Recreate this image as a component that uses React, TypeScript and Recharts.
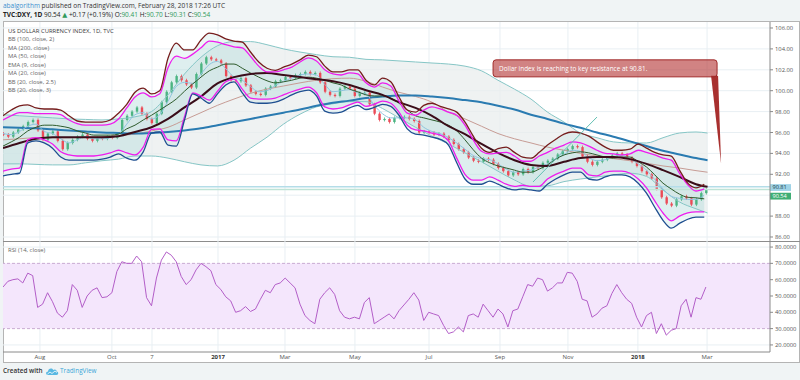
import React from "react";
import {
  ComposedChart,
  Line,
  Area,
  Bar,
  XAxis,
  YAxis,
  CartesianGrid,
  ReferenceLine,
  ReferenceArea,
  ReferenceDot,
} from "recharts";

const FONT = "'Open Sans', 'Noto Sans', 'DejaVu Sans', sans-serif";

// ---------- axes ----------
// x = trading-day index counted from 1 Jul 2016
const X_DOMAIN = [0, 464.85];
const X_TICK_DAYS = [22.4, 66, 90.3, 130.3, 170.9, 213.3, 258.2, 301.2, 342.4, 384.8, 426.7];
const X_TICK_LABELS = ["Aug", "Oct", "7", "2017", "Mar", "May", "Jul", "Sep", "Nov", "2018", "Mar"];
const PRICE_DOMAIN = [85.617, 106.574];
const PRICE_GRID = [86, 88, 90, 92, 94, 96, 98, 100, 102, 104, 106];
// 90.00 is hidden behind the price tags in the reference
const PRICE_TICKS = [86, 88, 92, 94, 96, 98, 100, 102, 104, 106];
const RSI_DOMAIN = [15.67, 83.71];
const RSI_TICKS = [20, 30, 40, 50, 60, 70, 80];
const RSI_GRID = [20, 40, 50, 60, 80];

// ---------- fast indicators, one value every 5 trading days (day 0..425) ----------
const FAST_STEP = 5;
const BB3_UPPER = [
  97.6, 98.15, 98.55, 98.65, 98.35, 98.25, 98.25, 98.15, 97.6, 97.1,
  97.0, 97.0, 97.0, 97.2, 97.85, 98.7, 99.85, 100.25, 99.7, 100.0,
  103.1, 104.55, 103.9, 103.9, 104.85, 105.5, 105.35, 104.95, 104.75, 104.65,
  103.7, 102.75, 102.15, 101.95, 102.25, 102.55, 102.95, 103.4, 103.25, 102.35,
  101.8, 101.8, 102.0, 102.0, 101.0, 100.55, 101.2, 100.85, 99.4, 98.15,
  97.95, 98.6, 98.8, 98.5, 98.25, 97.95, 97.0, 95.65, 94.5, 94.1,
  94.45, 94.6, 94.1, 93.65, 93.55, 94.1, 94.8, 95.35, 95.85, 96.05,
  95.95, 95.65, 95.1, 94.6, 94.3, 94.3, 94.4, 94.9, 94.5, 94.1,
  93.85, 93.75, 92.4, 91.15, 90.7, 91.05,
];
const BB25_UPPER = [
  97.2, 97.6, 97.9, 97.9, 97.8, 97.8, 97.8, 97.7, 97.2, 96.85,
  96.7, 96.7, 96.7, 96.8, 97.3, 98.35, 99.4, 99.8, 99.4, 99.7,
  102.2, 103.3, 103.1, 103.5, 104.1, 104.75, 104.65, 104.4, 104.2, 104.1,
  103.3, 102.35, 101.8, 101.8, 102.0, 102.25, 102.75, 103.15, 102.85, 102.0,
  101.6, 101.5, 101.7, 101.6, 100.75, 100.35, 100.75, 100.45, 99.0, 97.85,
  97.65, 98.15, 98.45, 98.25, 97.95, 97.65, 96.7, 95.3, 94.2, 93.95,
  94.05, 94.1, 93.75, 93.25, 93.25, 93.75, 94.1, 94.5, 94.8, 95.1,
  95.0, 94.7, 94.3, 94.0, 93.95, 93.85, 93.95, 94.3, 94.1, 93.85,
  93.55, 93.35, 92.1, 91.0, 90.4, 90.6,
];
const BB25_LOWER = [
  92.3, 92.5, 92.6, 95.3, 95.5, 95.3, 94.9, 94.15, 93.85, 93.75,
  93.75, 93.75, 93.85, 94.05, 94.3, 94.05, 93.85, 94.6, 96.3, 96.35,
  95.3, 95.2, 97.5, 99.8, 99.5, 99.1, 99.95, 100.85, 101.1, 100.15,
  99.3, 99.2, 99.2, 99.3, 99.6, 99.9, 100.15, 100.35, 99.8, 98.45,
  98.25, 98.35, 98.65, 98.9, 98.5, 98.7, 99.0, 98.8, 97.95, 96.7,
  96.25, 96.15, 95.95, 95.75, 95.2, 93.55, 92.0, 91.45, 91.45, 91.75,
  91.45, 91.05, 90.85, 90.95, 90.85, 90.85, 91.55, 92.0, 92.3, 92.6,
  92.6, 91.95, 91.85, 92.2, 92.3, 92.3, 92.1, 91.55, 90.7, 89.45,
  88.3, 87.55, 88.0, 88.3, 88.4, 88.4,
];
const BB3_LOWER = [
  91.85, 92.0, 92.1, 95.0, 95.2, 95.0, 94.5, 93.65, 93.35, 93.35,
  93.35, 93.35, 93.45, 93.65, 93.95, 93.55, 93.35, 94.15, 95.95, 96.05,
  94.8, 94.7, 97.2, 99.7, 99.3, 98.8, 99.7, 100.55, 100.85, 99.8,
  98.9, 98.8, 98.8, 98.9, 99.2, 99.6, 99.9, 100.05, 99.5, 98.05,
  97.85, 97.95, 98.35, 98.6, 98.2, 98.4, 98.7, 98.5, 97.65, 96.35,
  95.85, 95.75, 95.55, 95.35, 94.8, 93.1, 91.55, 91.05, 91.05, 91.35,
  91.05, 90.7, 90.5, 90.6, 90.5, 90.4, 91.05, 91.55, 91.95, 92.2,
  92.2, 91.55, 91.45, 91.75, 91.95, 91.95, 91.75, 91.15, 90.2, 88.85,
  87.6, 86.85, 87.3, 87.7, 87.9, 87.9,
];
const MA20 = [
  94.7, 95.1, 95.55, 96.15, 96.5, 96.7, 96.7, 96.6, 96.45, 96.15,
  95.95, 95.75, 95.75, 95.75, 95.85, 96.35, 96.7, 97.2, 97.65, 98.15,
  98.65, 99.2, 99.95, 100.65, 101.3, 101.9, 102.25, 102.55, 102.55, 102.15,
  101.7, 101.3, 100.95, 100.75, 100.85, 101.0, 101.2, 101.3, 101.2, 101.0,
  100.75, 100.55, 100.15, 99.9, 99.6, 99.5, 99.5, 99.3, 98.8, 98.15,
  97.6, 97.4, 97.2, 97.0, 96.7, 96.15, 95.3, 94.35, 93.55, 93.1,
  92.8, 92.6, 92.4, 92.2, 92.2, 92.5, 92.9, 93.45, 93.85, 94.05,
  94.15, 94.05, 93.85, 93.65, 93.55, 93.65, 93.65, 93.2, 92.7, 91.95,
  91.15, 90.6, 90.1, 89.8, 89.75, 89.65,
];
const EMA9 = [
  95.9, 95.8, 96.1, 96.6, 96.8, 96.1, 95.9, 95.4, 95.0, 95.3,
  95.6, 95.4, 95.4, 95.5, 95.8, 96.8, 97.7, 97.9, 97.3, 97.7,
  99.0, 100.4, 100.8, 100.7, 101.6, 102.5, 102.8, 102.1, 101.3, 101.0,
  100.4, 99.9, 100.0, 100.5, 100.9, 101.2, 101.5, 101.6, 101.5, 100.6,
  99.9, 100.0, 100.1, 99.8, 99.7, 98.6, 97.8, 97.4, 97.4, 97.4,
  97.2, 96.5, 96.1, 95.9, 95.5, 95.0, 94.4, 93.8, 93.5, 93.4,
  93.0, 92.5, 92.2, 92.3, 92.4, 92.7, 93.0, 93.5, 93.9, 94.3,
  94.2, 93.6, 93.3, 93.4, 93.7, 93.8, 93.5, 93.0, 92.4, 91.5,
  90.6, 89.9, 89.7, 89.6, 89.6, 90.0,
];

// ---------- slow indicators ----------
const SLOW_DAYS = [
  0, 10, 20, 30, 40, 50, 60, 70, 80, 90, 100, 110, 120, 130, 140, 150, 160, 170, 180, 190,
  200, 210, 220, 230, 240, 250, 260, 270, 280, 290, 300, 310, 320, 330, 340, 350, 360, 370,
  380, 390, 400, 410, 420, 427,
];
const MA200 = [
  96.5, 96.45, 96.4, 96.3, 96.2, 96.1, 96.0, 95.95, 95.9, 95.95,
  96.05, 96.2, 96.4, 96.7, 97.0, 97.3, 97.6, 97.9, 98.2, 98.55,
  98.85, 99.05, 99.3, 99.45, 99.55, 99.55, 99.45, 99.3, 99.1, 98.9,
  98.55, 98.2, 97.7, 97.3, 96.85, 96.45, 96.0, 95.6, 95.15, 94.7,
  94.25, 93.9, 93.55, 93.35,
];
const MA50 = [
  94.5, 95.0, 95.4, 95.55, 95.55, 95.55, 95.55, 95.65, 96.05, 96.5,
  97.3, 98.4, 99.45, 100.7, 101.3, 101.6, 101.7, 101.5, 101.3, 101.1,
  100.9, 100.55, 100.05, 99.6, 98.9, 98.35, 97.6, 96.6, 95.85, 94.9,
  94.05, 93.35, 92.9, 92.8, 93.2, 93.55, 93.65, 93.65, 93.45, 93.0,
  92.4, 91.75, 91.05, 90.8,
];
const BB100_UPPER = [
  97.7, 97.6, 97.5, 97.4, 97.3, 97.25, 97.2, 97.3, 97.5, 98.0,
  99.6, 101.6, 103.2, 104.3, 104.7, 104.7, 104.4, 104.0, 103.7, 103.45,
  103.25, 103.2, 103.0, 102.95, 102.85, 102.75, 102.65, 102.55, 102.35, 101.9,
  101.0, 100.15, 99.2, 97.95, 97.0, 95.95, 95.5, 95.1, 95.0, 95.0,
  95.5, 95.95, 96.05, 95.95,
];
const BB100_BASIS = [
  95.3, 95.4, 95.5, 95.5, 95.5, 95.55, 95.6, 95.7, 95.85, 96.15,
  96.5, 97.2, 97.9, 98.6, 99.2, 99.75, 100.15, 100.45, 100.75, 101.0,
  101.15, 101.2, 100.9, 100.35, 99.85, 99.45, 98.9, 97.95, 97.3, 96.6,
  95.9, 95.4, 95.0, 94.6, 94.3, 94.0, 93.75, 93.5, 93.3, 93.05,
  92.8, 92.6, 92.35, 92.2,
];
const BB100_LOWER = [
  93.0, 93.0, 92.95, 92.9, 92.9, 93.1, 93.3, 93.45, 93.75, 93.75,
  93.55, 93.2, 92.9, 92.8, 93.35, 94.5, 95.55, 96.8, 97.75, 98.45,
  98.75, 98.95, 98.95, 98.3, 97.4, 96.5, 95.65, 94.9, 94.05, 93.2,
  92.3, 91.45, 90.85, 90.9, 91.3, 91.55, 91.75, 91.95, 92.1, 91.8,
  90.5, 89.35, 88.7, 88.3,
];

// ---------- price (one candle every 3 trading days) & RSI ----------
const CANDLE_STEP = 3;
const FIRST_OPEN = 95.9;
const CLOSES = [
  95.8, 95.6, 96.0, 96.3, 96.6, 97.0, 97.2, 96.2, 95.3, 95.9,
  96.1, 95.2, 94.4, 95.0, 95.3, 95.6, 95.8, 95.4, 95.2, 95.5,
  95.4, 95.6, 95.5, 95.9, 97.2, 97.6, 98.0, 98.4, 97.8, 97.3,
  96.9, 97.8, 98.9, 99.9, 100.8, 101.4, 101.0, 100.6, 100.3, 101.6,
  102.6, 103.2, 103.0, 102.9, 102.6, 101.4, 101.0, 100.9, 101.2, 100.5,
  99.9, 99.7, 99.6, 100.2, 100.4, 100.9, 101.0, 101.3, 101.2, 101.5,
  101.6, 101.8, 101.6, 101.7, 100.8, 99.9, 99.6, 99.5, 100.2, 100.4,
  100.2, 99.5, 99.8, 99.8, 98.7, 97.8, 97.2, 97.3, 97.0, 97.4,
  97.5, 97.5, 97.3, 97.1, 96.0, 96.1, 96.0, 95.8, 95.9, 95.6,
  95.3, 94.9, 94.4, 94.1, 93.6, 93.3, 93.2, 93.5, 93.4, 93.0,
  92.6, 92.3, 91.9, 92.2, 92.0, 92.5, 92.2, 92.7, 92.6, 93.1,
  93.3, 93.5, 93.9, 94.2, 94.4, 94.7, 94.6, 93.7, 93.2, 92.9,
  93.2, 93.4, 93.6, 93.8, 94.0, 93.9, 93.6, 93.2, 92.8, 92.3,
  92.0, 91.6, 90.6, 89.8, 89.2, 89.0, 89.6, 89.9, 89.7, 89.1,
  89.6, 90.2, 90.54,
];
const RSI = [
  55.5, 59, 60, 60.5, 58, 64, 62.5, 43, 45, 52,
  46.5, 39.5, 37, 41, 57, 53.5, 43, 50, 53.5, 55,
  49, 49.5, 52, 65, 71, 70, 70, 74.5, 71, 49,
  44, 61, 72, 77, 75, 71, 62, 57, 60, 66,
  70, 68, 65.5, 57, 54, 49.5, 47, 40, 41, 43.5,
  40.5, 42, 48, 53.5, 52, 57, 58, 61, 58, 55,
  45, 38, 35, 33, 48, 52, 55, 51, 41, 37,
  36, 37, 36, 46, 49, 33, 35, 37, 39, 36,
  41, 44.5, 48, 52, 47.5, 35, 40, 39, 38, 32,
  27, 28, 31, 28, 38, 39, 37, 45, 41, 37,
  42, 39, 31, 41, 42, 49.5, 57, 56, 61, 60,
  53, 55, 58, 58, 64.5, 64, 59, 48, 47, 37,
  39, 42.5, 44, 51.5, 57, 52, 48, 45.5, 37, 31,
  38, 40, 27, 33, 26, 29, 30, 44, 48, 37,
  49, 48, 55.5,
];

// ---------- annotations ----------
const RESISTANCE = 90.81;
const LAST_PRICE = 90.54;
const TREND_LINE = [
  { x: 321.2, y: 91.26 },
  { x: 360, y: 97.48 },
];
const CALLOUT_TIP = { x: 435.2, y: 93.0 };
const CALLOUT_TEXT = "Dollar index is reaching to key resistance at 90.81.";

const LEGEND = [
  "BB (100, close, 2)",
  "MA (200, close)",
  "MA (50, close)",
  "EMA (9, close)",
  "MA (20, close)",
  "BB (20, close, 2.5)",
  "BB (20, close, 3)",
];

// ---------- colors ----------
const UP = "#4cb482";
const DOWN = "#eb4b57";

function buildRows() {
  const rows = new Map<number, any>();
  const at = (d: number) => {
    if (!rows.has(d)) rows.set(d, { day: d });
    return rows.get(d);
  };
  BB3_UPPER.forEach((v, i) => {
    const r = at(i * FAST_STEP);
    r.bb3u = v;
    r.bb3l = BB3_LOWER[i];
    r.bb25u = BB25_UPPER[i];
    r.bb25l = BB25_LOWER[i];
    r.ma20 = MA20[i];
    r.ema9 = EMA9[i];
    r.bb3Fill = [BB3_LOWER[i], v];
    r.bb25Fill = [BB25_LOWER[i], BB25_UPPER[i]];
  });
  SLOW_DAYS.forEach((d, i) => {
    const r = at(d);
    r.ma200 = MA200[i];
    r.ma50 = MA50[i];
    r.bb100u = BB100_UPPER[i];
    r.bb100l = BB100_LOWER[i];
    r.bb100m = BB100_BASIS[i];
    r.bb100Fill = [BB100_LOWER[i], BB100_UPPER[i]];
  });
  CLOSES.forEach((c, i) => {
    const r = at(i * CANDLE_STEP);
    const o = i === 0 ? FIRST_OPEN : CLOSES[i - 1];
    r.body = [Math.min(o, c), Math.max(o, c)];
    r.up = c >= o;
    r.rsi = RSI[i];
  });
  return Array.from(rows.values()).sort((a, b) => a.day - b.day);
}

const DATA = buildRows();

const Candle = (props: any) => {
  const { x, y, width, height, payload } = props;
  if (!payload || !payload.body || x == null) return null;
  const h = Math.abs(height || 0);
  const yy = height < 0 ? y + height : y;
  const w = Math.max(width, 2.4);
  return (
    <g>
      <rect x={x + w / 2 - 0.4} y={yy - 1.5} width={0.8} height={Math.max(h, 1) + 3} fill={payload.up ? UP : DOWN} />
      <rect x={x} y={yy} width={w} height={Math.max(h, 1.2)} fill={payload.up ? UP : DOWN} />
    </g>
  );
};

const Callout = (props: any) => {
  const { cx, cy } = props;
  if (cx == null || cy == null) return null;
  const left = cx - 228;
  const top = cy - 104;
  const w = 224;
  const h = 17;
  return (
    <g>
      <path d={`M${cx - 10},${top + h - 1} L${cx},${cy} L${cx - 3},${top + h - 1} Z`} fill="#a8302f" />
      <rect x={left} y={top} width={w} height={h} rx={3} ry={3} fill="rgba(180,55,55,0.62)" stroke="#a02a2a" strokeWidth={1} />
      <text x={left + 6} y={top + h / 2} dy="0.35em" fontSize={6.4} fill="#ffffff" fontFamily={FONT}>
        {CALLOUT_TEXT}
      </text>
    </g>
  );
};

const PriceTag = (bg: string, fg: string, text: string, shift: number) => (props: any) => {
  const vb = props.viewBox || {};
  const x = (vb.x || 0) + (vb.width || 0);
  const y = (vb.y || 0) + shift;
  return (
    <g>
      <rect x={x} y={y - 3.4} width={21} height={6.8} fill={bg} />
      <text x={x + 2.5} y={y} dy="0.35em" fontSize={5.6} fill={fg} fontFamily={FONT}>
        {text}
      </text>
    </g>
  );
};

const XTick = (props: any) => {
  const { x, y, payload } = props;
  const idx = X_TICK_DAYS.indexOf(payload.value);
  const label = idx >= 0 ? X_TICK_LABELS[idx] : "";
  const bold = label === "2017" || label === "2018";
  return (
    <text x={x} y={y} dy="0.75em" textAnchor="middle" fontSize={6} fill={bold ? "#333" : "#555"} fontWeight={bold ? 700 : 400} fontFamily={FONT}>
      {label}
    </text>
  );
};

const thin = { dot: false, isAnimationActive: false, connectNulls: true, activeDot: false } as any;

export default function App() {
  return (
    <div
      style={{
        position: "fixed",
        left: 0,
        top: 0,
        width: 800,
        height: 380,
        background: "#f0f4f5",
        overflow: "hidden",
        fontFamily: FONT,
      }}
    >
      {/* header */}
      <div style={{ position: "absolute", left: 3, top: 1.5, fontSize: 6.5, lineHeight: "8px", color: "#333", whiteSpace: "nowrap" }}>
        <span style={{ color: "#3b8fcf" }}>abalgorithm</span> published on TradingView.com, February 28, 2018 17:26 UTC
      </div>
      <div style={{ position: "absolute", left: 3, top: 11, fontSize: 6.5, lineHeight: "8px", color: "#222", whiteSpace: "nowrap" }}>
        <b>TVC:DXY, 1D</b> 90.54 <span style={{ color: "#2f9a5b" }}>▲</span> +0.17 (+0.19%) O:<span style={{ color: "#2f9a5b" }}>90.41</span> H:
        <span style={{ color: "#2f9a5b" }}>90.70</span> L:<span style={{ color: "#2f9a5b" }}>90.31</span> C:
        <span style={{ color: "#2f9a5b" }}>90.54</span>
      </div>

      {/* chart frame */}
      <div style={{ position: "absolute", left: 3, top: 21, width: 795, height: 340, background: "#ffffff", border: "1px solid #b4b4b4" }} />

      {/* price pane */}
      <div style={{ position: "absolute", left: 3, top: 22 }}>
        <ComposedChart width={797} height={219} data={DATA} margin={{ top: 0, right: 0, bottom: 0, left: 0 }}>
          <CartesianGrid stroke="#e8eff3" verticalValues={X_TICK_DAYS} horizontalValues={PRICE_GRID} />
          <XAxis type="number" dataKey="day" domain={X_DOMAIN} allowDataOverflow hide />
          <YAxis
            orientation="right"
            width={30}
            domain={PRICE_DOMAIN}
            ticks={PRICE_TICKS}
            allowDataOverflow
            interval={0}
            tickFormatter={(v: number) => v.toFixed(2)}
            tick={{ fontSize: 5.8, fill: "#555", fontFamily: FONT }}
            tickSize={3}
            tickMargin={2}
            stroke="#8a8a8a"
          />
          <Area dataKey="bb100Fill" type="monotone" stroke="none" fill="#e9eeee" fillOpacity={0.75} {...thin} />
          <Area dataKey="bb3Fill" type="monotone" stroke="none" fill="#b9e0e0" fillOpacity={0.28} {...thin} />
          <Area dataKey="bb25Fill" type="monotone" stroke="none" fill="#b9e0e0" fillOpacity={0.28} {...thin} />
          <ReferenceLine y={RESISTANCE} stroke="#b4dde8" strokeWidth={1.5} label={PriceTag("#9fd3e6", "#1c3b4a", "90.81", 0.8) as any} />
          <ReferenceLine y={LAST_PRICE} stroke="#bfe3d6" strokeWidth={1.5} label={PriceTag("#3fae74", "#ffffff", "90.54", 6.6) as any} />
          <Bar dataKey="body" barSize={2.4} shape={Candle} isAnimationActive={false} />
          <Line dataKey="bb100u" type="monotone" stroke="#86c6c6" strokeWidth={1} {...thin} />
          <Line dataKey="bb100l" type="monotone" stroke="#86c6c6" strokeWidth={1} {...thin} />
          <Line dataKey="bb100m" type="monotone" stroke="#c79c95" strokeWidth={1} {...thin} />
          <Line dataKey="ma200" type="monotone" stroke="#2a7bb1" strokeWidth={2} {...thin} />
          <Line dataKey="ema9" type="monotone" stroke="#8fc4df" strokeWidth={1} {...thin} />
          <Line dataKey="ma20" type="monotone" stroke="#2f5c2d" strokeWidth={1} {...thin} />
          <Line dataKey="ma50" type="monotone" stroke="#3a0d19" strokeWidth={2} {...thin} />
          <Line dataKey="bb25u" type="monotone" stroke="#ee1cee" strokeWidth={1.3} {...thin} />
          <Line dataKey="bb25l" type="monotone" stroke="#ee1cee" strokeWidth={1.3} {...thin} />
          <Line dataKey="bb3u" type="monotone" stroke="#761d1d" strokeWidth={1.3} {...thin} />
          <Line dataKey="bb3l" type="monotone" stroke="#1f4f90" strokeWidth={1.3} {...thin} />
          <ReferenceLine segment={TREND_LINE} stroke="#63c0b3" strokeWidth={1} ifOverflow="visible" />
          <ReferenceDot x={CALLOUT_TIP.x} y={CALLOUT_TIP.y} r={0} shape={Callout} ifOverflow="visible" />
        </ComposedChart>
      </div>

      {/* legend */}
      <div style={{ position: "absolute", left: 8, top: 26.5, fontSize: 5.9, lineHeight: "8.57px", color: "#666", whiteSpace: "nowrap" }}>
        <div style={{ color: "#3a3a3a" }}>US DOLLAR CURRENCY INDEX, 1D, TVC</div>
        {LEGEND.map((t) => (
          <div key={t}>{t}</div>
        ))}
      </div>

      {/* pane separator */}
      <div style={{ position: "absolute", left: 3, top: 240.5, width: 797, height: 1.2, background: "#8c8c8c" }} />

      {/* RSI pane */}
      <div style={{ position: "absolute", left: 3, top: 241 }}>
        <ComposedChart width={797} height={121} data={DATA} margin={{ top: 0, right: 0, bottom: 0, left: 0 }}>
          <ReferenceArea y1={30} y2={70} fill="#f4e6fc" fillOpacity={1} stroke="none" ifOverflow="visible" />
          <CartesianGrid stroke="#e8eff3" verticalValues={X_TICK_DAYS} horizontalValues={RSI_GRID} />
          <XAxis
            type="number"
            dataKey="day"
            domain={X_DOMAIN}
            allowDataOverflow
            ticks={X_TICK_DAYS}
            interval={0}
            height={10}
            tick={<XTick />}
            tickLine={false}
            tickSize={0}
            tickMargin={2}
            stroke="#8a8a8a"
          />
          <YAxis
            orientation="right"
            width={30}
            domain={RSI_DOMAIN}
            ticks={RSI_TICKS}
            allowDataOverflow
            interval={0}
            tickFormatter={(v: number) => v.toFixed(4)}
            tick={{ fontSize: 5.8, fill: "#555", fontFamily: FONT }}
            tickSize={3}
            tickMargin={2}
            stroke="#8a8a8a"
          />
          <ReferenceLine y={70} stroke="#c9abd2" strokeDasharray="3 2" />
          <ReferenceLine y={30} stroke="#c9abd2" strokeDasharray="3 2" />
          <Line dataKey="rsi" type="linear" stroke="#b35ec8" strokeWidth={1} {...thin} />
        </ComposedChart>
      </div>
      <div style={{ position: "absolute", left: 8, top: 246, fontSize: 5.9, lineHeight: "8px", color: "#666" }}>RSI (14, close)</div>

      {/* footer */}
      <div style={{ position: "absolute", left: 3, top: 367, fontSize: 6.4, lineHeight: "8px", color: "#333", fontWeight: 600 }}>Created with</div>
      <svg style={{ position: "absolute", left: 45, top: 366 }} width={14} height={10} viewBox="0 0 14 10">
        <path d="M3 9 C0.5 9 0.5 5.5 3 5.5 C3 2.5 7 1.5 8.2 4 C9.5 2.8 12 3.6 11.6 5.6 C13.8 5.8 13.8 9 11.5 9 Z" fill="#59b8e2" />
        <path d="M2.5 8 L5 6 L7 7.5 L10 5 L12 6.5" stroke="#ffffff" strokeWidth={0.8} fill="none" />
      </svg>
      <div style={{ position: "absolute", left: 60, top: 367, fontSize: 6.4, lineHeight: "8px", color: "#3ba6d8" }}>TradingView</div>
    </div>
  );
}
